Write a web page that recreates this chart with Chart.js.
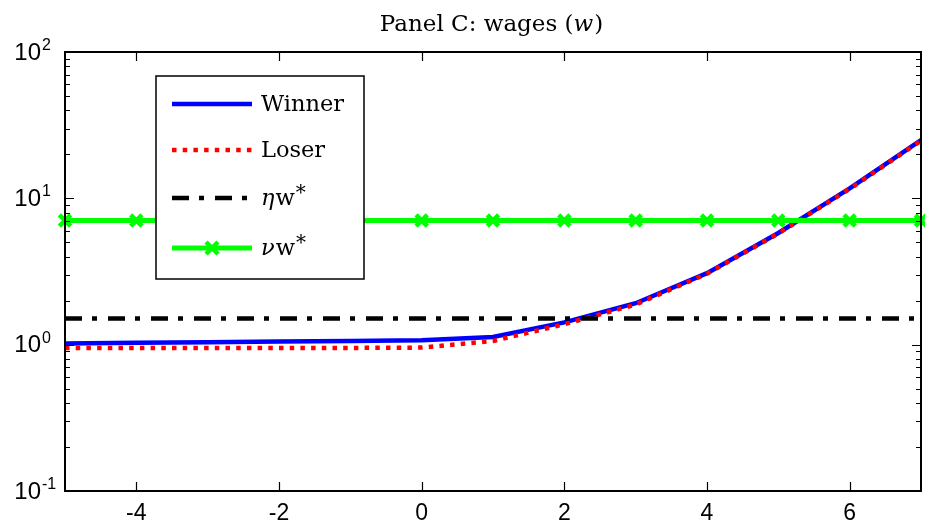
<!DOCTYPE html>
<html>
<head>
<meta charset="utf-8">
<script src="https://cdn.jsdelivr.net/npm/chart.js@4/dist/chart.umd.min.js"></script>
<style>
html,body{margin:0;padding:0;background:#fff;}
#wrap{width:925px;height:527px;position:relative;}
.pre{font-family:"Liberation Sans";position:absolute;left:-999px;top:0;}
.pre2{font-family:"DejaVu Serif";position:absolute;left:-999px;top:0;}
</style>
</head>
<body>
<span class="pre">10 -4</span><span class="pre2">Winner <i>w</i></span>
<div id="wrap"><canvas id="c" width="925" height="527"></canvas></div>
<script>
const xValues = [-5, -4, -3, -2, -1, 0, 1, 2, 3, 4, 5, 6, 7];
const winner = [1.02, 1.03, 1.04, 1.05, 1.06, 1.07, 1.13, 1.42, 1.92, 3.08, 5.8, 11.7, 25.0];
const loser  = [0.95, 0.95, 0.95, 0.95, 0.95, 0.955, 1.06, 1.38, 1.88, 3.05, 5.75, 11.6, 24.8];
const etaW = [1.51, 1.51, 1.51, 1.51, 1.51, 1.51, 1.51, 1.51, 1.51, 1.51, 1.51, 1.51, 1.51];
const nuW  = [7.05, 7.05, 7.05, 7.05, 7.05, 7.05, 7.05, 7.05, 7.05, 7.05, 7.05, 7.05, 7.05];
const xTicks = [-4, -2, 0, 2, 4, 6];
const yTickExps = [-1, 0, 1, 2];
const legendLabels = ["Winner", "Loser", "\u03B7w*", "\u03BDw*"];
const titleText = "Panel C: wages (w)";

const pts = arr => arr.map((v, i) => ({x: xValues[i], y: v}));

const SERIF = '"DejaVu Serif"';
const SANS = '"Liberation Sans"';

const decor = {
  id: 'decor',
  afterDraw(chart) {
    const ctx = chart.ctx;
    const a = chart.chartArea;
    const xs = chart.scales.x, ys = chart.scales.y;
    ctx.save();
    // ticks
    ctx.strokeStyle = '#000';
    ctx.lineWidth = 1.2;
    ctx.beginPath();
    xTicks.forEach(t => {
      const px = Math.round(xs.getPixelForValue(t)) + 0.5;
      ctx.moveTo(px, a.bottom); ctx.lineTo(px, a.bottom - 9);
      ctx.moveTo(px, a.top); ctx.lineTo(px, a.top + 9);
    });
    for (let e = -1; e <= 2; e++) {
      const base = Math.pow(10, e);
      const py = Math.round(ys.getPixelForValue(base)) + 0.5;
      ctx.moveTo(a.left, py); ctx.lineTo(a.left + 9, py);
      ctx.moveTo(a.right, py); ctx.lineTo(a.right - 9, py);
      if (e < 2) {
        for (let m = 2; m <= 9; m++) {
          const my = Math.round(ys.getPixelForValue(m * base)) + 0.5;
          ctx.moveTo(a.left, my); ctx.lineTo(a.left + 5, my);
          ctx.moveTo(a.right, my); ctx.lineTo(a.right - 5, my);
        }
      }
    }
    ctx.stroke();
    // border
    ctx.lineWidth = 2;
    ctx.strokeRect(a.left, a.top, a.right - a.left, a.bottom - a.top);
    // x labels
    ctx.fillStyle = '#000';
    ctx.font = '23px ' + SANS;
    ctx.textAlign = 'center';
    ctx.textBaseline = 'middle';
    xTicks.forEach(t => {
      ctx.fillText(String(t), xs.getPixelForValue(t), a.bottom + 23);
    });
    // y labels
    yTickExps.forEach(e => {
      const py = ys.getPixelForValue(Math.pow(10, e));
      ctx.font = '24px ' + SANS;
      ctx.textAlign = 'right';
      ctx.textBaseline = 'middle';
      ctx.fillText('10', 41, py + 1);
      ctx.font = '16px ' + SANS;
      ctx.textAlign = 'left';
      ctx.textBaseline = 'alphabetic';
      ctx.fillText(String(e), 42, py - 2);
    });
    // title
    const TF = 23;
    ctx.textBaseline = 'alphabetic';
    ctx.textAlign = 'left';
    const t1 = 'Panel C: wages (';
    const t2 = 'w';
    const t3 = ')';
    ctx.font = TF + 'px ' + SERIF;
    const w1 = ctx.measureText(t1).width;
    ctx.font = 'italic ' + TF + 'px ' + SERIF;
    const w2 = ctx.measureText(t2).width;
    ctx.font = TF + 'px ' + SERIF;
    const w3 = ctx.measureText(t3).width;
    let tx = 491 - (w1 + w2 + w3) / 2;
    const ty = 31;
    ctx.fillText(t1, tx, ty); tx += w1;
    ctx.font = 'italic ' + TF + 'px ' + SERIF;
    ctx.fillText(t2, tx, ty); tx += w2 + 1;
    ctx.font = TF + 'px ' + SERIF;
    ctx.fillText(t3, tx, ty);
    // legend
    const lx = 156, ly = 76, lw = 208, lh = 203;
    ctx.fillStyle = '#fff';
    ctx.fillRect(lx, ly, lw, lh);
    ctx.strokeStyle = '#000';
    ctx.lineWidth = 1.5;
    ctx.strokeRect(lx, ly, lw, lh);
    const rows = [104, 150, 198, 248];
    const ds = chart.data.datasets;
    const LF = 22.5;
    rows.forEach((ry, i) => {
      const d = ds[i];
      ctx.save();
      ctx.strokeStyle = d.borderColor;
      ctx.lineWidth = d.borderWidth;
      ctx.setLineDash(d.borderDash || []);
      ctx.lineCap = 'butt';
      ctx.beginPath();
      ctx.moveTo(172, ry); ctx.lineTo(252, ry);
      ctx.stroke();
      ctx.restore();
      if (i === 3) {
        ctx.save();
        ctx.strokeStyle = d.pointBorderColor;
        ctx.lineWidth = 4.5;
        ctx.beginPath();
        ctx.moveTo(206, ry - 6); ctx.lineTo(218, ry + 6);
        ctx.moveTo(206, ry + 6); ctx.lineTo(218, ry - 6);
        ctx.stroke();
        ctx.restore();
      }
      ctx.fillStyle = '#000';
      ctx.textAlign = 'left';
      ctx.textBaseline = 'middle';
      const lab = legendLabels[i];
      if (i >= 2) {
        ctx.font = 'italic ' + LF + 'px ' + SERIF;
        const g = lab[0];
        ctx.fillText(g, 261, ry + 1);
        const gw = ctx.measureText(g).width;
        ctx.font = LF + 'px ' + SERIF;
        ctx.fillText('w', 261 + gw + 1, ry + 1);
        const ww = ctx.measureText('w').width;
        ctx.font = '20px ' + SERIF;
        ctx.fillText('*', 261 + gw + ww + 2, ry - 4);
      } else {
        ctx.font = LF + 'px ' + SERIF;
        ctx.fillText(lab, 261, ry + 1);
      }
    });
    ctx.restore();
  }
};

function build() {
  new Chart(document.getElementById('c'), {
    type: 'line',
    data: {
      datasets: [
        { label: legendLabels[0], data: pts(winner), borderColor: '#0000ff', borderWidth: 4.5, pointRadius: 0, order: 4, tension: 0 },
        { label: legendLabels[1], data: pts(loser), borderColor: '#ff0000', borderWidth: 4.5, borderDash: [4.5, 6.2], pointRadius: 0, order: 3, tension: 0 },
        { label: legendLabels[2], data: pts(etaW), borderColor: '#000000', borderWidth: 4.5, borderDash: [17, 10, 5, 11], pointRadius: 0, order: 2, tension: 0 },
        { label: legendLabels[3], data: pts(nuW), borderColor: '#00ff00', borderWidth: 5, pointStyle: 'crossRot', pointRadius: 8, pointBorderWidth: 4.5, pointBorderColor: '#00ff00', pointBackgroundColor: '#00ff00', order: 1, tension: 0 }
      ]
    },
    options: {
      responsive: false,
      animation: false,
      events: [],
      layout: { autoPadding: false, padding: { left: 65, right: 4, top: 52, bottom: 36 } },
      plugins: { legend: { display: false }, title: { display: false }, tooltip: { enabled: false } },
      scales: {
        x: { type: 'linear', min: -5, max: 7, display: false },
        y: { type: 'logarithmic', min: 0.1, max: 100, display: false }
      },
      clip: false
    },
    plugins: [decor]
  });
}

const fontLoads = [
  '23px "Liberation Sans"', '16px "Liberation Sans"',
  '22px "DejaVu Serif"', 'italic 22px "DejaVu Serif"'
].map(f => document.fonts.load(f).catch(() => null));
Promise.all(fontLoads).then(() => document.fonts.ready).then(build, build);
</script>
</body>
</html>
